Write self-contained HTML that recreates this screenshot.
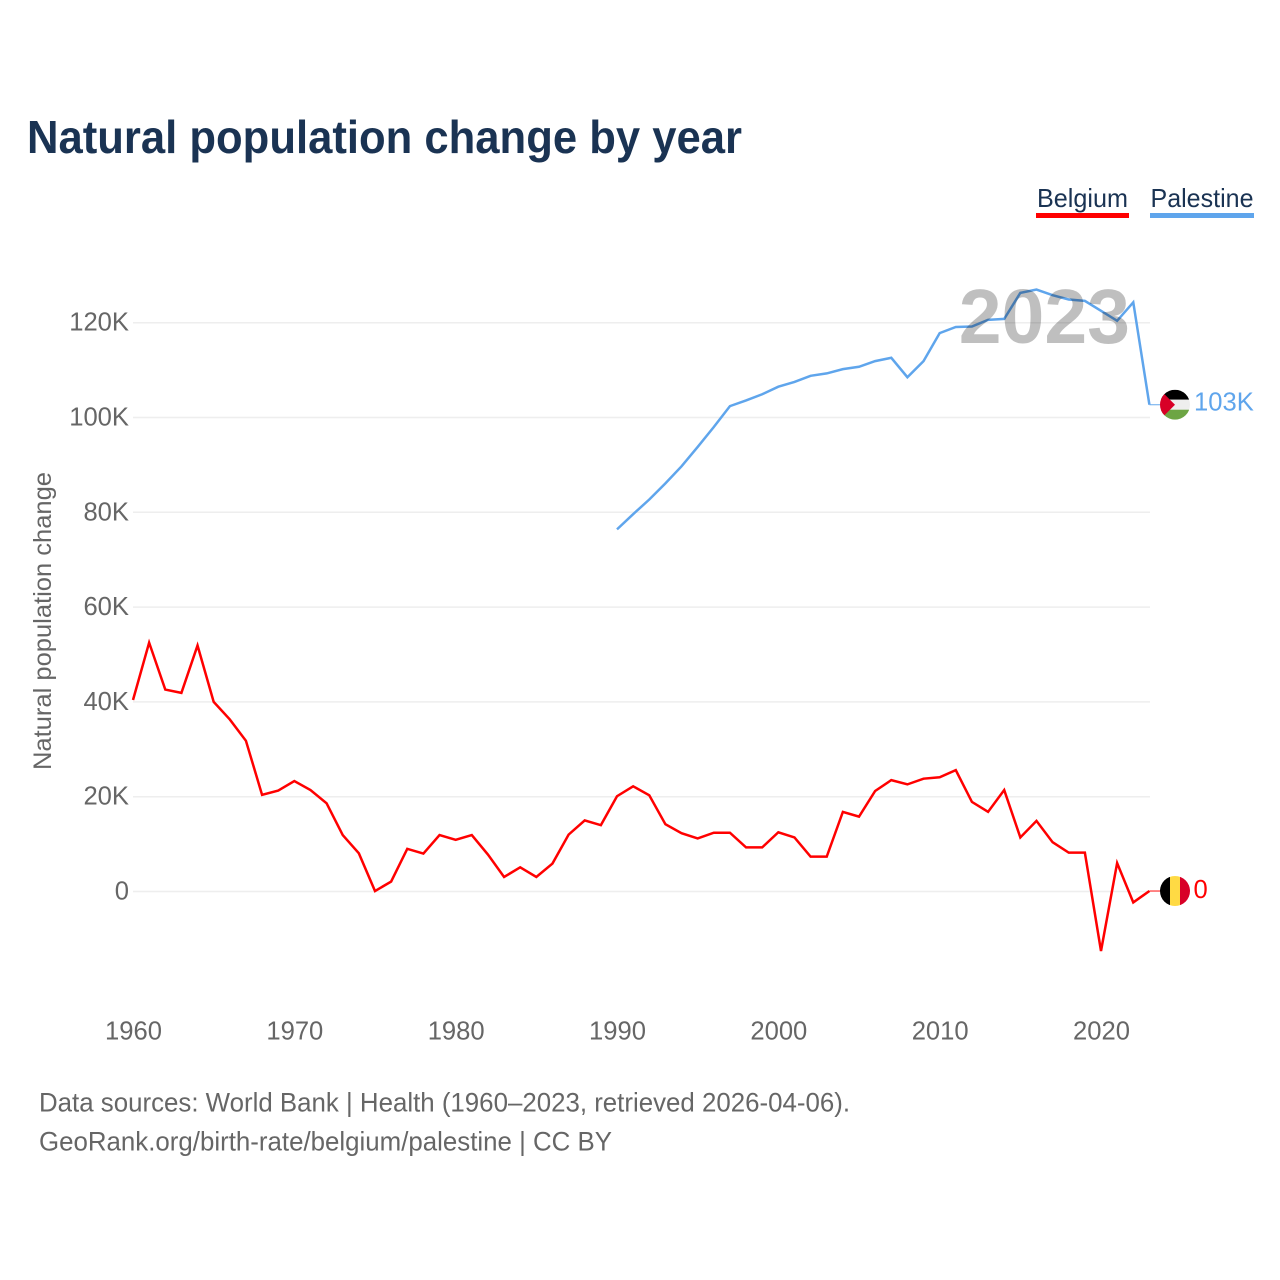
<!DOCTYPE html>
<html lang="en">
<head>
<meta charset="utf-8">
<title>Natural population change by year</title>
<style>
html,body{margin:0;padding:0;background:#fff}
svg{display:block}
text{font-family:"Liberation Sans",sans-serif}
</style>
</head>
<body>
<svg id="chart" xmlns="http://www.w3.org/2000/svg" width="1280" height="1280" viewBox="0 0 1280 1280">
  <rect x="0" y="0" width="1280" height="1280" fill="#fff"/>
  <text x="27" y="153" font-size="46" font-weight="700" fill="#1a3353" textLength="715" lengthAdjust="spacingAndGlyphs">Natural population change by year</text>
  <g>
    <text x="1037" y="207" font-size="26" fill="#1a3353" textLength="91" lengthAdjust="spacingAndGlyphs">Belgium</text>
    <rect x="1036" y="213" width="93" height="5" fill="#ff0000"/>
  </g>
  <g>
    <text x="1150.5" y="207" font-size="26" fill="#1a3353" textLength="103" lengthAdjust="spacingAndGlyphs">Palestine</text>
    <rect x="1150" y="213" width="104" height="5" fill="#5fa5ec"/>
  </g>
  <text transform="translate(51,621) rotate(-90)" text-anchor="middle" font-size="25" fill="#666" textLength="298" lengthAdjust="spacingAndGlyphs">Natural population change</text>
  <g id="grid"></g>
  <g id="y-ticks"></g>
  <g id="x-ticks"></g>
  <g id="series"></g>
  <text id="year-label" x="1130" y="343" text-anchor="end" font-size="77" font-weight="700" fill="rgba(0,0,0,0.25)"></text>
  <defs>
    <clipPath id="flag-clip"><circle cx="0" cy="0" r="15"/></clipPath>
  </defs>
  <g id="flag-palestine">
    <g clip-path="url(#flag-clip)">
      <rect x="-15" y="-15" width="30" height="10" fill="#000"/>
      <rect x="-15" y="-5" width="30" height="10" fill="#eee"/>
      <rect x="-15" y="5" width="30" height="10" fill="#6da544"/>
      <polygon points="-15,-15 0,0 -15,15" fill="#d80027"/>
    </g>
  </g>
  <g id="flag-belgium">
    <g clip-path="url(#flag-clip)">
      <rect x="-15" y="-15" width="10" height="30" fill="#000"/>
      <rect x="-5" y="-15" width="10" height="30" fill="#ffda44"/>
      <rect x="5" y="-15" width="10" height="30" fill="#d80027"/>
    </g>
  </g>
  <text id="end-label-palestine" x="1194" font-size="25.6" fill="#5fa5ec"></text>
  <text id="end-label-belgium" x="1193.5" font-size="25.6" fill="#ff0000"></text>
  <text x="39" y="1111.5" font-size="26.5" fill="#666" textLength="811" lengthAdjust="spacingAndGlyphs">Data sources: World Bank | Health (1960–2023, retrieved 2026-04-06).</text>
  <a>
    <text x="39" y="1150.5" font-size="26.5" fill="#666" textLength="573" lengthAdjust="spacingAndGlyphs">GeoRank.org/birth-rate/belgium/palestine | CC BY</text>
  </a>
</svg>
<script>
const years = [1960,1961,1962,1963,1964,1965,1966,1967,1968,1969,1970,1971,1972,1973,1974,1975,1976,1977,1978,1979,1980,1981,1982,1983,1984,1985,1986,1987,1988,1989,1990,1991,1992,1993,1994,1995,1996,1997,1998,1999,2000,2001,2002,2003,2004,2005,2006,2007,2008,2009,2010,2011,2012,2013,2014,2015,2016,2017,2018,2019,2020,2021,2022,2023];
const belgiumValues = [40.4,52.5,42.6,41.9,51.9,40,36.3,31.8,20.4,21.3,23.3,21.4,18.6,11.9,8.05,0.1,2.1,9,8,11.9,10.9,11.9,7.8,3.06,5.1,3.06,5.9,12,15,14,20.1,22.2,20.3,14.2,12.3,11.2,12.4,12.4,9.3,9.3,12.5,11.4,7.35,7.35,16.8,15.8,21.2,23.5,22.6,23.8,24.1,25.6,18.9,16.8,21.4,11.4,14.9,10.4,8.2,8.2,-12.55,6,-2.3,0.1];
const palestineValues = [null,null,null,null,null,null,null,null,null,null,null,null,null,null,null,null,null,null,null,null,null,null,null,null,null,null,null,null,null,null,76.4,79.6,82.7,86.1,89.7,93.8,98,102.4,103.6,104.9,106.5,107.5,108.8,109.3,110.2,110.7,111.9,112.6,108.5,111.9,117.8,119.1,119.2,120.6,120.8,126.3,127,125.8,124.9,124.6,122.5,120.4,124.3,102.7];
const yTickValues = [0,20,40,60,80,100,120];
const yTickLabels = ["0","20K","40K","60K","80K","100K","120K"];
const xTickValues = [1960,1970,1980,1990,2000,2010,2020];
const xTickLabels = ["1960","1970","1980","1990","2000","2010","2020"];
const currentYear = "2023";
const belgiumEndLabel = "0";
const palestineEndLabel = "103K";

const NS = "http://www.w3.org/2000/svg";
function xScale(year) { return 133 + (year - 1960) * (1101 - 133) / 60; }
function yScale(value) { return 891.5 - value * 4.74; }
function make(tag, attrs, parent, content) {
  const el = document.createElementNS(NS, tag);
  for (const k in attrs) el.setAttribute(k, attrs[k]);
  if (content !== undefined) el.textContent = content;
  parent.appendChild(el);
  return el;
}
const gridGroup = document.getElementById("grid");
const yTickGroup = document.getElementById("y-ticks");
const xTickGroup = document.getElementById("x-ticks");
const seriesGroup = document.getElementById("series");

yTickValues.forEach(function (v, i) {
  const line = make("line", {x1: 133, x2: 1150, y1: yScale(v), y2: yScale(v), stroke: "#eeeeee", "stroke-width": 1.5}, gridGroup);
  
  
  const label = make("text", {x: 129, y: yScale(v) + 8, "text-anchor": "end", "font-size": 25.6, fill: "#666"}, yTickGroup, yTickLabels[i]);
  
  
});
xTickValues.forEach(function (v, i) {
  const label = make("text", {x: xScale(v) + 0.5, y: 1039.5, "text-anchor": "middle", "font-size": 25.6, fill: "#666"}, xTickGroup, xTickLabels[i]);
  
  
});

function linePoints(values) {
  const pts = [];
  values.forEach(function (v, i) {
    if (v !== null) pts.push(xScale(years[i]).toFixed(2) + "," + yScale(v).toFixed(2));
  });
  return pts.join(" ");
}
function lastValue(values) { return values[values.length - 1]; }
const lastX = xScale(years[years.length - 1]);

const belgiumLine = make("polyline", {points: linePoints(belgiumValues), fill: "none", stroke: "#ff0000", "stroke-width": 2.5, "stroke-linejoin": "miter"}, seriesGroup);


const palestineLine = make("polyline", {points: linePoints(palestineValues), fill: "none", stroke: "#5fa5ec", "stroke-width": 2.5, "stroke-linejoin": "miter"}, seriesGroup);


const belgiumConnector = make("line", {x1: lastX, x2: lastX + 12, y1: yScale(lastValue(belgiumValues)), y2: yScale(lastValue(belgiumValues)), stroke: "#ff0000", "stroke-width": 1.2, opacity: 0.8}, seriesGroup);


const palestineConnector = make("line", {x1: lastX, x2: lastX + 12, y1: yScale(lastValue(palestineValues)), y2: yScale(lastValue(palestineValues)), stroke: "#5fa5ec", "stroke-width": 1.2, opacity: 0.8}, seriesGroup);



document.getElementById("year-label").textContent = currentYear;
document.getElementById("flag-belgium").setAttribute("transform", "translate(1175," + yScale(lastValue(belgiumValues)) + ")");
document.getElementById("flag-palestine").setAttribute("transform", "translate(1175," + yScale(lastValue(palestineValues)) + ")");
const belgiumEnd = document.getElementById("end-label-belgium");
belgiumEnd.textContent = belgiumEndLabel;
belgiumEnd.setAttribute("y", yScale(lastValue(belgiumValues)) + 7);
const palestineEnd = document.getElementById("end-label-palestine");
palestineEnd.textContent = palestineEndLabel;
palestineEnd.setAttribute("y", yScale(lastValue(palestineValues)) + 6);
</script>
</body>
</html>
